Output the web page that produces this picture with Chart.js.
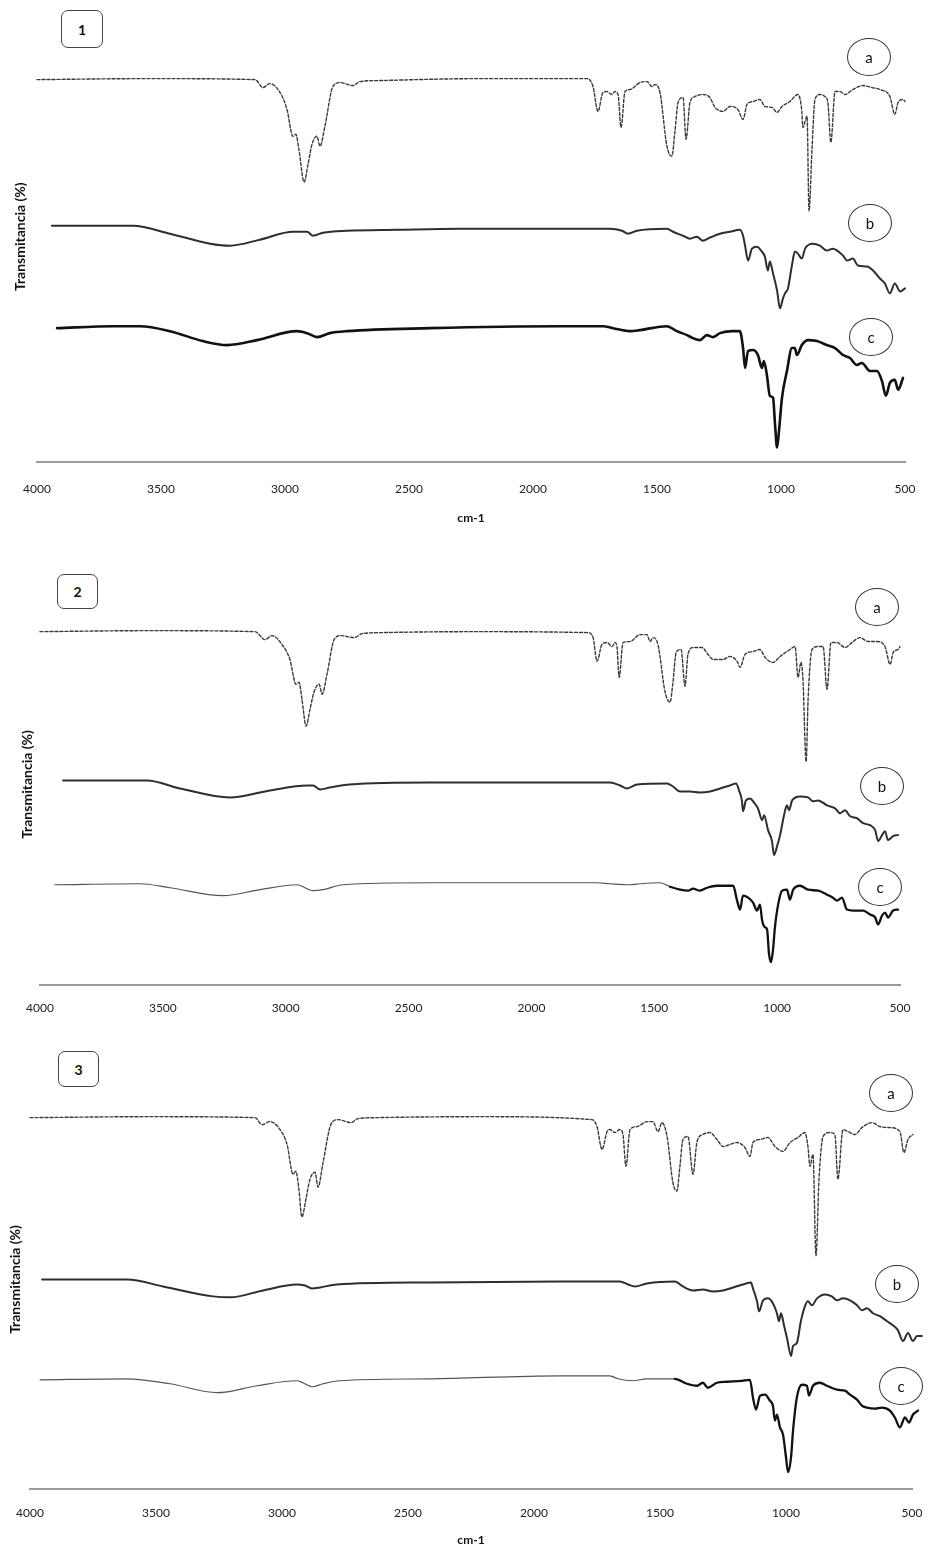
<!DOCTYPE html>
<html>
<head>
<meta charset="utf-8">
<script src="https://cdn.jsdelivr.net/npm/chart.js@4.4.1/dist/chart.umd.min.js"></script>
<style>
  html, body { margin: 0; padding: 0; background: #fff; }
  body { width: 927px; height: 1550px; position: relative; overflow: hidden;
         font-family: Lato, 'Liberation Sans', sans-serif; }
  canvas { position: absolute; left: 0; }
  .tag { position: absolute; box-sizing: border-box; border: 1.5px solid #444; border-radius: 7px;
         font-weight: bold; font-size: 14px; display: flex; align-items: center; justify-content: center;
         color: #111; background: #fff; }
  .lbl { position: absolute; box-sizing: border-box; border: 1.5px solid #333; border-radius: 50%;
         width: 44px; height: 38px; font-size: 15px; display: flex; align-items: center;
         justify-content: center; color: #111; background: transparent; }
</style>
</head>
<body>
<canvas id="fig1" width="927" height="532" style="top:0px"></canvas>
<canvas id="fig2" width="927" height="460" style="top:560px"></canvas>
<canvas id="fig3" width="927" height="512" style="top:1040px"></canvas>

<div class="tag" style="left:61px;top:10px;width:42px;height:38px">1</div>
<div class="tag" style="left:57px;top:574px;width:41px;height:35px">2</div>
<div class="tag" style="left:58px;top:1051px;width:41px;height:36px">3</div>

<div class="lbl" style="left:847px;top:38px">a</div>
<div class="lbl" style="left:848px;top:204px">b</div>
<div class="lbl" style="left:849px;top:318px">c</div>

<div class="lbl" style="left:855px;top:588px">a</div>
<div class="lbl" style="left:860px;top:767px">b</div>
<div class="lbl" style="left:858px;top:868px">c</div>

<div class="lbl" style="left:869px;top:1074px">a</div>
<div class="lbl" style="left:875px;top:1265px">b</div>
<div class="lbl" style="left:879px;top:1367px">c</div>

<script>
// Wavenumber axis labels (cm-1)
const wavenumberTicks = [4000, 3500, 3000, 2500, 2000, 1500, 1000, 500];
const seriesNames = ['a', 'b', 'c'];

// Spectra as [wavenumber, stacked transmittance] pairs.
// Figure 1
const fig1A = [[4000,96.25],[3544,96.5],[3121,96.25],[3089,94.25],[3061,95.25],[3020,93],[2992,88.75],[2968,82],[2956,82.5],[2944,78.75],[2923,70.5],[2907,75],[2891,80],[2871,82],[2859,79.5],[2839,84.5],[2807,94.5],[2778,95.5],[2726,94.75],[2698,95.75],[2629,96],[2214,96.5],[1782,96.5],[1758,94.5],[1738,88.25],[1718,93],[1702,93.25],[1682,92.5],[1670,93.25],[1657,92.5],[1645,84.25],[1629,93.25],[1609,93.75],[1569,95.5],[1540,95.75],[1520,94.5],[1508,95],[1488,93],[1460,79.5],[1440,77],[1428,83],[1415,90.5],[1395,91.75],[1383,81.25],[1367,90.5],[1347,92],[1315,92.5],[1287,91.75],[1266,89.25],[1234,88.25],[1206,89.5],[1174,88.75],[1153,86.25],[1137,90],[1113,90.75],[1085,91.25],[1065,89.5],[1036,89.25],[1016,88],[996,89.5],[964,90.75],[932,92.5],[916,88.25],[912,84.25],[895,87],[887,63.25],[875,78.75],[863,91.25],[843,92.5],[823,92],[811,90.5],[799,80.5],[782,93.25],[762,93.25],[742,92.5],[710,93.75],[670,94.75],[633,94.25],[601,93.75],[561,92],[541,87.5],[528,90.5],[508,91.25],[500,90.75]];
const fig1B = [[3940,59.5],[3613,59.5],[3464,57.5],[3302,55],[3222,54.5],[3101,56],[2968,58],[2911,58],[2887,57],[2847,57.75],[2750,58.25],[2548,58.5],[2294,58.75],[1891,58.75],[1690,58.75],[1641,58.25],[1617,57.5],[1581,58.25],[1460,58.75],[1436,58],[1395,57],[1367,56.25],[1339,56.75],[1315,55.75],[1287,56.5],[1246,57.5],[1206,58],[1166,58.5],[1153,57],[1145,54.5],[1133,50.75],[1117,53.75],[1097,54.25],[1077,53],[1065,51.75],[1053,48.25],[1045,50.5],[1032,47.5],[1016,43.25],[1004,38.75],[992,41.25],[984,42.5],[972,43.75],[956,49.5],[944,53],[932,52.5],[916,51.25],[903,53.75],[871,55],[843,54.5],[815,53.25],[791,53.75],[750,52],[734,50.75],[710,51.25],[690,49.5],[653,49.25],[629,48.25],[601,46.25],[581,45],[561,42.5],[541,45],[520,43],[500,43.75]];
const fig1C = [[3919,33.75],[3694,34.25],[3585,34.25],[3464,33],[3331,30.5],[3234,29.5],[3113,30.75],[2952,33],[2911,32.5],[2871,31.5],[2819,32.5],[2750,33],[2415,33.75],[1891,34.25],[1718,34.25],[1678,33.75],[1609,33],[1569,33.25],[1460,34.25],[1420,33],[1379,32],[1355,31.25],[1327,30.75],[1299,32],[1274,31.5],[1246,32.5],[1194,33],[1166,33],[1153,28.75],[1145,23.75],[1133,28],[1113,28.25],[1093,27],[1077,23.75],[1069,25.5],[1057,22],[1045,16.75],[1032,16.25],[1024,9.5],[1016,3.75],[1008,8],[996,16.25],[976,23],[956,28.75],[944,28.75],[936,27],[916,29.5],[891,30.75],[855,30.5],[815,29.5],[782,28.75],[750,27],[722,26.25],[694,24.5],[674,25],[641,23],[613,23],[593,20.5],[577,16.75],[561,20],[541,20.75],[528,18.25],[508,21.25]];

// Figure 2
const fig2A = [[4000,89],[3552,89.25],[3125,89],[3084,87],[3056,88],[3015,85.75],[2983,82],[2958,75.75],[2946,76.25],[2934,72],[2917,65.25],[2901,69.5],[2885,73.75],[2864,75.75],[2852,73.25],[2832,78.25],[2803,87],[2775,88],[2722,87.5],[2689,88.5],[2616,88.75],[2209,89],[1770,88.75],[1749,87.5],[1733,81.5],[1713,85.75],[1692,86.25],[1672,85.25],[1660,86.25],[1652,85.25],[1643,77.5],[1627,86.25],[1599,86.5],[1558,88.25],[1530,88.25],[1517,86.5],[1505,87.5],[1485,85.75],[1456,73.75],[1436,71.25],[1424,76.25],[1411,83.75],[1391,84.5],[1375,75.25],[1363,83.25],[1342,85],[1306,85],[1281,83.25],[1261,82],[1220,82],[1192,82.75],[1163,81.5],[1151,80],[1131,83.25],[1098,84],[1070,84.5],[1049,82.5],[1017,81.25],[988,82.75],[948,84.5],[927,85.25],[915,77.5],[903,81.25],[895,77],[882,56.25],[874,72],[858,84.5],[834,85.25],[813,85.25],[797,74.5],[781,86.25],[756,86.25],[724,85],[691,86.5],[663,87.5],[630,86.5],[593,86.5],[561,85.25],[540,80.75],[528,83.75],[508,84.5],[500,85.25]];
const fig2B = [[3906,51.5],[3565,51.5],[3430,49.5],[3227,47.25],[3064,49],[2913,50.25],[2889,50.25],[2860,49.25],[2820,49.75],[2738,50.5],[2413,51],[1884,51],[1680,51],[1639,50.25],[1611,49.5],[1570,50.5],[1448,50.75],[1424,50],[1395,48.75],[1355,48.75],[1314,48.5],[1273,48.75],[1232,49.5],[1192,50.25],[1167,50.75],[1155,49],[1143,46.25],[1139,43.75],[1127,46.5],[1110,47],[1098,46.25],[1078,44.5],[1061,41.5],[1053,42.75],[1037,39],[1021,36.25],[1013,32.75],[1000,35],[988,37.75],[972,42.75],[960,45.25],[952,44],[939,46.5],[907,47.5],[874,47.25],[854,46.25],[833,46.5],[797,45.25],[764,44.5],[744,43.25],[724,44],[703,42.5],[675,42],[650,40.75],[622,40.25],[601,39],[589,36.25],[573,37.75],[561,38.75],[549,36.5],[528,37.5],[508,37.75]];
const fig2C = [[3939,25.25],[3593,25.5],[3471,24.5],[3255,22.5],[3105,24],[2954,25.25],[2889,23.75],[2848,24],[2767,25.25],[2413,25.75],[1884,25.75],[1733,25.75],[1680,25.5],[1599,25.25],[1558,25.5],[1477,25.75],[1436,24.75],[1395,24],[1363,23.75],[1342,24.25],[1314,23.75],[1285,24.5],[1245,25],[1204,25],[1179,25],[1163,21.25],[1151,19],[1139,22.5],[1118,22],[1098,20.75],[1082,18.75],[1070,20.25],[1061,16.25],[1049,14.5],[1041,14],[1033,7.75],[1025,5.75],[1017,8.75],[1009,14.5],[996,20.25],[980,23.75],[960,24],[948,21.5],[935,24],[907,25],[874,24],[833,23.75],[797,22.75],[773,22],[756,21.25],[736,22],[716,19],[691,18.75],[650,18.75],[622,17.75],[601,17],[589,15.25],[573,17.5],[561,18.25],[549,17],[528,18.75],[508,19]];

// Figure 3
const fig3A = [[4000,93.5],[3524,93.75],[3107,93.5],[3079,91.75],[3048,92.5],[3008,90.5],[2980,86.75],[2956,79.25],[2945,80],[2933,75.5],[2921,68.5],[2905,73],[2889,78],[2869,79.75],[2857,76],[2837,82.25],[2806,91.75],[2778,93],[2726,92.25],[2699,93.25],[2631,93.5],[2214,93.75],[1770,93],[1750,91.25],[1730,85.5],[1710,90],[1699,90.5],[1679,89.75],[1659,90.5],[1647,89.25],[1635,81.25],[1619,90.5],[1591,91.25],[1552,92.5],[1528,92.5],[1508,90],[1492,92.25],[1472,88.75],[1449,77.25],[1433,75],[1421,81.25],[1409,88],[1389,88.75],[1369,79.25],[1353,87.5],[1330,89.25],[1302,89.75],[1274,88],[1250,86.25],[1222,86.75],[1195,87.25],[1163,86],[1143,83.75],[1131,87.25],[1103,88],[1072,88.5],[1044,86.25],[1012,85],[984,87.25],[953,88.5],[925,89.75],[913,86.25],[905,81.25],[893,84.25],[881,58.75],[869,78],[853,88.75],[826,89.75],[806,89.25],[794,78],[774,90.5],[754,90],[726,89.25],[699,91],[659,92.25],[627,91.25],[588,91],[548,90],[532,84.75],[516,88],[496,89.25]];
const fig3B = [[3952,52.75],[3615,52.75],[3472,51],[3274,48.5],[3206,48.25],[3075,50],[2941,51.5],[2909,51.25],[2881,50.5],[2849,50.75],[2782,51.5],[2413,52],[1897,52.25],[1659,52.25],[1627,51.5],[1599,51],[1552,51.75],[1441,52.25],[1409,51],[1369,50],[1330,50.25],[1290,49.75],[1250,50],[1210,50.75],[1171,51.5],[1139,52],[1131,50.5],[1115,47.25],[1107,44.75],[1091,47.5],[1072,48],[1052,46.75],[1036,44.25],[1028,42.25],[1020,44.25],[1008,41.25],[996,38],[980,33.5],[972,36],[957,36.75],[941,42.25],[925,46],[913,47.25],[897,46.25],[877,48],[845,49],[818,48.5],[798,47.5],[774,48],[746,47.5],[718,46.25],[699,45],[679,45.5],[655,44.25],[627,43.5],[599,42.25],[576,41.25],[556,40],[536,37.25],[516,39.25],[496,37.25],[480,38.5],[461,38.5]];
const fig3C = [[3960,27.5],[3615,27.75],[3444,26.5],[3258,24.25],[3099,26],[2941,27.25],[2917,26.75],[2881,25.75],[2837,26.5],[2770,27.25],[2413,27.75],[1897,28.5],[1699,28.5],[1667,27.75],[1607,27.25],[1552,27.75],[1441,27.75],[1393,26.5],[1353,26],[1330,26.75],[1310,25.5],[1274,26.75],[1234,27],[1175,27.25],[1143,27.5],[1131,23],[1119,20],[1103,23.5],[1083,23.75],[1064,22.25],[1052,21],[1044,17.25],[1036,18.75],[1024,15.5],[1012,13.75],[1000,8],[992,4.25],[980,8],[972,14.75],[957,23],[937,26.25],[917,26],[909,23.5],[893,26],[865,26.75],[838,26],[798,25],[766,24.75],[746,23.75],[718,22.5],[699,21],[679,20.5],[647,20.25],[619,20.5],[588,19.75],[568,18],[548,15.5],[528,18],[512,16.75],[496,18.75],[476,19.75]];

const FONT = "Lato, 'Liberation Sans', sans-serif";
const toPoints = arr => arr.map(([x, y]) => ({ x, y }));

// Line styles for the three traces
function styleA() {
  return { borderColor: '#3a3a3a', borderWidth: 1.4, borderDash: [3, 2] };
}
function styleB() {
  return { borderColor: '#2e2e2e', borderWidth: 2 };
}
function styleCThick() {
  return { borderColor: '#111', borderWidth: 2.6 };
}
function styleCMixed() {
  // thin on the flat high-wavenumber part, heavy through the fingerprint region
  return {
    borderColor: '#333', borderWidth: 1.2,
    segment: {
      borderWidth: c => (c.p0.parsed.x < 1470 ? 2.3 : 1.2),
      borderColor: c => (c.p0.parsed.x < 1470 ? '#111' : '#555')
    }
  };
}

function buildChart(id, series, styles, L) {
  const datasets = series.map((s, i) => Object.assign({
    label: seriesNames[i],
    data: toPoints(s),
    pointRadius: 0,
    cubicInterpolationMode: 'monotone',
    fill: false,
    clip: false,
    borderJoinStyle: 'round',
    borderCapStyle: 'round'
  }, styles[i]));

  return new Chart(document.getElementById(id), {
    type: 'line',
    data: { datasets },
    options: {
      responsive: false,
      animation: false,
      devicePixelRatio: 1,
      layout: { padding: L.pad },
      plugins: { legend: { display: false }, tooltip: { enabled: false } },
      scales: {
        x: {
          type: 'linear',
          reverse: true,
          min: 500,
          max: 4000,
          afterBuildTicks: scale => { scale.ticks = wavenumberTicks.map(v => ({ value: v })); },
          ticks: {
            autoSkip: false, maxRotation: 0, padding: 3, color: '#222',
            callback: v => String(v),
            font: { family: FONT, size: 12, lineHeight: 1.2 }
          },
          grid: { display: true, drawOnChartArea: false, drawTicks: true,
                  tickLength: L.tickLen, color: 'rgba(0,0,0,0)' },
          border: { display: true, color: '#9a9a9a', width: 2 },
          title: {
            display: L.xTitle, text: 'cm-1', color: '#111',
            font: { family: FONT, size: 12, weight: 'bold', lineHeight: 1.2 },
            padding: { top: L.xTitleTop, bottom: 4 }
          }
        },
        y: {
          type: 'linear',
          min: 0,
          max: L.yMax,
          ticks: { display: false },
          grid: { display: false, drawTicks: false },
          border: { display: false },
          title: {
            display: true, text: 'Transmitancia (%)', color: '#111',
            font: { family: FONT, size: 14, weight: 'bold', lineHeight: 1.2 },
            padding: { top: 4, bottom: L.yTitleBottom }
          }
        }
      }
    }
  });
}

buildChart('fig1', [fig1A, fig1B, fig1C], [styleA(), styleB(), styleCThick()], {
  pad: { left: 7.6, right: 22, top: 11, bottom: 2.4 },
  yMax: 113.5, tickLen: 17, xTitle: true, xTitleTop: 11.4, yTitleBottom: 8.6
});
buildChart('fig2', [fig2A, fig2B, fig2C], [styleA(), styleB(), styleCMixed()], {
  pad: { left: 14.6, right: 27, top: 24, bottom: 1.6 },
  yMax: 101, tickLen: 13, xTitle: false, xTitleTop: 0, yTitleBottom: 4.6
});
buildChart('fig3', [fig3A, fig3B, fig3C], [styleA(), styleB(), styleCMixed()], {
  pad: { left: 2.6, right: 15, top: 30, bottom: 0.8 },
  yMax: 105.5, tickLen: 14, xTitle: true, xTitleTop: 9.4, yTitleBottom: 6.6
});
</script>
</body>
</html>
